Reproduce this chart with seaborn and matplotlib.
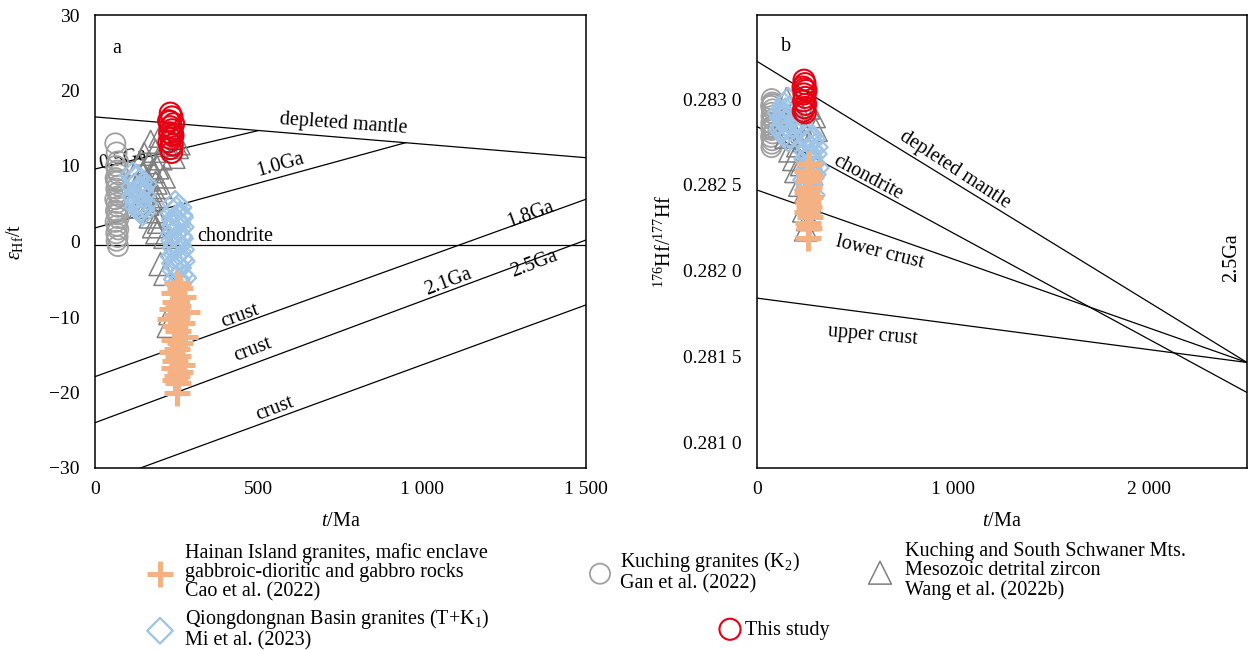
import matplotlib
matplotlib.use("Agg")
import numpy as np
import pandas as pd
import seaborn as sns
import matplotlib.pyplot as plt
from matplotlib.ticker import MultipleLocator, FuncFormatter, FixedLocator

sns.set_theme(style="white")
plt.rcParams["font.family"] = ["Liberation Serif", "DejaVu Serif"]
plt.rcParams["mathtext.fontset"] = "custom"
plt.rcParams["mathtext.rm"] = "Liberation Serif"
plt.rcParams["mathtext.it"] = "Liberation Serif:italic"
plt.rcParams["mathtext.bf"] = "Liberation Serif:bold"
plt.rcParams["axes.unicode_minus"] = True

# ---------------- data: panel a (t/Ma vs eHf(t)) ----------------
kuching_a_t = [62, 66, 70, 64, 68, 72, 63, 67, 71, 65, 69, 73, 62, 66, 70, 64, 68, 72, 63, 67, 71, 65, 69, 66, 70, 64, 68]
kuching_a_e = [13.0, 11.8, 10.6, 10.0, 9.4, 8.9, 8.4, 7.9, 7.4, 7.0, 6.5, 6.0, 5.6, 5.1, 4.6, 4.1, 3.6, 3.1, 2.6, 2.1, 1.6, 1.1, 0.6, 0.1, -0.6, 8.1, 3.9]

wang_a_t = [200, 170, 215, 250, 185, 150, 240, 200, 165, 135, 190, 175, 145, 210, 160, 185, 130, 200, 170, 150, 190, 175, 160, 140, 185, 170, 195, 180, 190, 215, 200, 215, 230, 225, 255]
wang_a_e = [14.0, 13.2, 12.8, 12.5, 12.0, 11.6, 11.2, 11.0, 10.5, 10.2, 9.8, 9.3, 9.0, 8.6, 8.2, 7.8, 7.5, 7.2, 6.8, 6.4, 6.0, 5.5, 5.0, 4.6, 4.0, 3.3, 2.6, 2.0, 1.2, 0.6, -3.0, -4.3, -9.5, -11.2, 13.0]

mi_a_t = [115, 125, 135, 120, 140, 130, 145, 125, 135, 150, 130, 140, 145, 120, 150, 128, 138, 132, 142,
          245, 255, 240, 260, 250, 245, 255, 240, 260, 250, 245, 255, 240, 265, 250, 245, 260, 250, 255, 270,
          248, 258, 243, 252, 262, 247, 257, 242, 253, 263, 249, 259, 244, 254]
mi_a_e = [8.8, 8.2, 7.8, 7.3, 7.0, 6.6, 6.2, 5.8, 5.4, 5.0, 4.6, 4.2, 3.8, 6.0, 7.6, 8.5, 6.8, 5.2, 4.4,
          5.0, 4.5, 3.8, 3.2, 2.7, 2.1, 1.6, 1.0, 0.4, -0.2, -0.8, -1.4, -2.0, -2.6, -3.2, -3.8, -4.4, -5.0, -5.6, -4.8,
          4.2, 3.5, 2.9, 2.4, 1.9, 1.3, 0.7, 0.1, -0.5, -1.1, -1.7, -2.3, -2.9, -3.5]

cao_a_t = [250, 260, 240, 270, 245, 255, 235, 280, 250, 230, 265, 245, 255, 275, 240, 260, 250, 235, 255, 245, 265, 240, 260, 250, 245, 255, 250]
cao_a_e = [-5.5, -6.2, -6.8, -7.4, -8.0, -8.5, -9.0, -9.4, -9.8, -10.3, -10.8, -11.2, -11.8, -12.6, -13.0, -13.5, -14.2, -14.6, -15.2, -15.8, -16.3, -16.8, -17.3, -17.8, -18.3, -18.7, -20.0]

this_a_t = [230, 235, 225, 240, 230, 235, 228, 238, 232, 226, 236, 230, 234, 229, 237]
this_a_e = [17.0, 16.5, 16.0, 15.6, 15.2, 14.8, 14.4, 14.0, 13.6, 13.2, 12.8, 12.3, 11.8, 15.9, 14.2]

# ---------------- data: panel b (t/Ma vs 176Hf/177Hf) ----------------
kuching_b_t = [75, 78, 72, 80, 76, 74, 79, 73, 77, 75, 80, 72, 78, 76, 74, 79, 73]
kuching_b_r = [0.28300, 0.28298, 0.28296, 0.28294, 0.28292, 0.28290, 0.28288, 0.28286, 0.28284, 0.28282, 0.28280, 0.28278, 0.28276, 0.28274, 0.28272, 0.28297, 0.28283]

wang_b_t = [150, 200, 260, 180, 290, 140, 220, 170, 300, 190, 150, 240, 210, 170, 280, 190, 230, 200, 260, 220, 250, 270, 240, 260, 250]
wang_b_r = [0.28300, 0.28297, 0.28295, 0.28292, 0.28290, 0.28288, 0.28286, 0.28284, 0.28282, 0.28280, 0.28278, 0.28276, 0.28273, 0.28270, 0.28268, 0.28265, 0.28262, 0.28258, 0.28255, 0.28250, 0.28246, 0.28240, 0.28235, 0.28230, 0.28224]

mi_b_t = [120, 140, 160, 130, 150, 170, 140, 160, 180, 150, 130, 170, 145, 155, 135, 165,
          260, 280, 250, 270, 290, 255, 275, 265, 285, 250, 270, 260, 280, 300, 295,
          262, 272, 258, 268, 278, 264, 274, 266]
mi_b_r = [0.28292, 0.28296, 0.28299, 0.28289, 0.28286, 0.28283, 0.28280, 0.28277, 0.28285, 0.28290, 0.28282, 0.28294, 0.28293, 0.28288, 0.28284, 0.28279,
          0.28280, 0.28277, 0.28274, 0.28271, 0.28268, 0.28265, 0.28262, 0.28259, 0.28256, 0.28253, 0.28250, 0.28247, 0.28244, 0.28260, 0.28272,
          0.28278, 0.28275, 0.28269, 0.28266, 0.28263, 0.28257, 0.28254, 0.28251]

cao_b_t = [265, 255, 270, 260, 265, 255, 270, 260, 265, 255, 270, 260, 265, 260]
cao_b_r = [0.28262, 0.28258, 0.28255, 0.28252, 0.28249, 0.28246, 0.28243, 0.28240, 0.28237, 0.28234, 0.28231, 0.28228, 0.28225, 0.28219]

this_b_t = [240, 245, 235, 250, 240, 245, 238, 248, 242, 236, 246, 243]
this_b_r = [0.28311, 0.28309, 0.28307, 0.28305, 0.28303, 0.28301, 0.28299, 0.28297, 0.28295, 0.28293, 0.28292, 0.28306]

# ---------------- reference lines ----------------
dm_a_t, dm_a_e = [0, 1500], [16.5, 11.1]
chon_a_t, chon_a_e = [0, 1500], [-0.5, -0.5]
c05_t, c05_e = [0, 500], [9.6, 14.7]
c10_t, c10_e = [0, 950], [1.8, 13.1]
c18_t, c18_e = [0, 1500], [-17.9, 5.6]
c21_t, c21_e = [0, 1500], [-24.0, 0.2]
c25_t, c25_e = [0, 1500], [-32.2, -8.4]

dm_b_t, dm_b_r = [0, 2500], [0.28322, 0.281465]
chon_b_t, chon_b_r = [0, 2500], [0.28284, 0.28129]
lc_b_t, lc_b_r = [0, 2500], [0.28247, 0.281465]
uc_b_t, uc_b_r = [0, 2500], [0.28184, 0.281465]

lab_cao = "Hainan Island granites, mafic enclave\ngabbroic-dioritic and gabbro rocks\nCao et al. (2022)"
lab_mi = "Qiongdongnan Basin granites (T+K$_1$)\nMi et al. (2023)"
lab_kuch = "Kuching granites (K$_2$)\nGan et al. (2022)"
lab_wang = "Kuching and South Schwaner Mts.\nMesozoic detrital zircon\nWang et al. (2022b)"
lab_this = "This study"

C_GREY = "#A0A0A0"
C_TRI = "#7F7F7F"
C_BLUE = "#9DC3E6"
C_ORANGE = "#F4B183"
C_RED = "#E60012"

W, H = 1249, 650
fig = plt.figure(figsize=(W / 100, H / 100), dpi=100)
axa = fig.add_axes([95 / W, 1 - 468 / H, 491 / W, 453 / H])
axb = fig.add_axes([757 / W, 1 - 468 / H, 490 / W, 453 / H])

FS = 14.5
TFS = 14
lkw = dict(color="black", lw=0.9, zorder=1)


def scatter_all(ax, kt, kv, wt, wv, mt, mv, ct, cv, tt, tv):
    hs = []
    d = pd.DataFrame({"x": kt, "y": kv})
    sns.scatterplot(data=d, x="x", y="y", ax=ax, marker="o", s=210, facecolor="none",
                    edgecolor=C_GREY, linewidth=1.3, legend=False, zorder=3)
    hs.append(ax.collections[-1])
    d = pd.DataFrame({"x": wt, "y": wv})
    sns.scatterplot(data=d, x="x", y="y", ax=ax, marker="^", s=270, facecolor="none",
                    edgecolor=C_TRI, linewidth=1.1, legend=False, zorder=4)
    hs.append(ax.collections[-1])
    d = pd.DataFrame({"x": mt, "y": mv})
    sns.scatterplot(data=d, x="x", y="y", ax=ax, marker="D", s=170, facecolor="none",
                    edgecolor=C_BLUE, linewidth=1.6, legend=False, zorder=5)
    hs.append(ax.collections[-1])
    d = pd.DataFrame({"x": ct, "y": cv})
    sns.scatterplot(data=d, x="x", y="y", ax=ax, marker="+", s=340, color=C_ORANGE,
                    linewidth=3.6, legend=False, zorder=6)
    hs.append(ax.collections[-1])
    d = pd.DataFrame({"x": tt, "y": tv})
    sns.scatterplot(data=d, x="x", y="y", ax=ax, marker="o", s=230, facecolor="none",
                    edgecolor=C_RED, linewidth=1.5, legend=False, zorder=7)
    hs.append(ax.collections[-1])
    return hs


# ---------------- panel a ----------------
for xs, ys in [(dm_a_t, dm_a_e), (chon_a_t, chon_a_e), (c05_t, c05_e), (c10_t, c10_e),
               (c18_t, c18_e), (c21_t, c21_e), (c25_t, c25_e)]:
    axa.plot(xs, ys, **lkw)

handles = scatter_all(axa, kuching_a_t, kuching_a_e, wang_a_t, wang_a_e, mi_a_t, mi_a_e,
                      cao_a_t, cao_a_e, this_a_t, this_a_e)

axa.set_xlim(0, 1500)
axa.set_ylim(-30, 30)
axa.xaxis.set_major_locator(MultipleLocator(500))
axa.yaxis.set_major_locator(MultipleLocator(10))
thou = FuncFormatter(lambda v, p: f"{int(round(v)):,}".replace(",", " "))
axa.xaxis.set_major_formatter(thou)
axa.tick_params(direction="in", length=6, width=1, labelsize=TFS, colors="black")
axa.tick_params(axis="y", pad=11)
axa.tick_params(axis="x", pad=9)
axa.set_xlabel("$t$/Ma", fontsize=FS, color="black")
axa.set_ylabel(r"$\varepsilon_{\mathrm{Hf}}$/t", fontsize=FS, color="black")
axa.yaxis.set_label_coords(-0.143, 0.5)
axa.xaxis.set_label_coords(0.5, -0.098)

tk = dict(fontsize=FS, color="black", ha="center", va="center", zorder=2)
axa.text(0.045, 0.925, "a", transform=axa.transAxes, **tk)
axa.text(760, 15.6, "depleted mantle", rotation=-4, **tk)
axa.text(85, 10.9, "0.5Ga", rotation=12, **tk)
axa.text(565, 10.2, "1.0Ga", rotation=16, **tk)
axa.text(428, 0.7, "chondrite", rotation=0, **tk)
axa.text(443, -9.9, "crust", rotation=20, **tk)
axa.text(1329, 3.6, "1.8Ga", rotation=20, **tk)
axa.text(483, -14.4, "crust", rotation=21, **tk)
axa.text(1078, -5.4, "2.1Ga", rotation=21, **tk)
axa.text(550, -22.1, "crust", rotation=21, **tk)
axa.text(1341, -3.0, "2.5Ga", rotation=21, **tk)

# ---------------- panel b ----------------
for xs, ys in [(dm_b_t, dm_b_r), (chon_b_t, chon_b_r), (lc_b_t, lc_b_r), (uc_b_t, uc_b_r)]:
    axb.plot(xs, ys, **lkw)

scatter_all(axb, kuching_b_t, kuching_b_r, wang_b_t, wang_b_r, mi_b_t, mi_b_r,
            cao_b_t, cao_b_r, this_b_t, this_b_r)

axb.set_xlim(0, 2500)
axb.set_ylim(0.28085, 0.28349)
axb.xaxis.set_major_locator(FixedLocator([0, 1000, 2000]))
axb.xaxis.set_minor_locator(MultipleLocator(200))
axb.yaxis.set_major_locator(MultipleLocator(0.0005))
axb.yaxis.set_minor_locator(MultipleLocator(0.0001))
axb.xaxis.set_major_formatter(thou)
axb.yaxis.set_major_formatter(FuncFormatter(lambda v, p: (lambda s: s[:-1] + " " + s[-1])(f"{v:.4f}")))
axb.tick_params(which="major", direction="in", length=13, width=1, labelsize=TFS, colors="black")
axb.tick_params(which="minor", direction="in", length=6.5, width=1, colors="black")
axb.tick_params(axis="y", which="major", pad=11)
axb.tick_params(axis="x", which="major", pad=9)
axb.set_xlabel("$t$/Ma", fontsize=FS, color="black")
axb.set_ylabel("$^{176}$Hf/$^{177}$Hf", fontsize=FS, color="black")
axb.yaxis.set_label_coords(-0.166, 0.5)
axb.xaxis.set_label_coords(0.5, -0.098)

axb.text(0.06, 0.93, "b", transform=axb.transAxes, **tk)
axb.text(1010, 0.282587, "depleted mantle", rotation=-33, **tk)
axb.text(566, 0.28254, "chondrite", rotation=-28, **tk)
axb.text(628, 0.282108, "lower crust", rotation=-14, **tk)
axb.text(592, 0.281622, "upper crust", rotation=-5, **tk)
axb.text(2423, 0.282076, "2.5Ga", rotation=90, **tk)

for ax in (axa, axb):
    for s in ax.spines.values():
        s.set_color("black")
        s.set_linewidth(1.1)

# ---------------- legend (one entry per legend box) ----------------
h_kuch, h_wang, h_mi, h_cao, h_this = handles
fs_px = FS * 100 / 72
entries = [
    (h_cao, lab_cao, 160, 185, 572),
    (h_mi, lab_mi, 160, 185, 629),
    (h_kuch, lab_kuch, 600, 620, 572),
    (h_wang, lab_wang, 880, 905, 571),
    (h_this, lab_this, 730, 745, 630),
]
for h, lab, mx, tx, cy in entries:
    x0 = mx - 0.5 * fs_px
    pad = (tx - mx - 0.5 * fs_px) / fs_px
    leg = fig.legend(handles=[h], labels=[lab], loc="center left",
                     bbox_to_anchor=(x0 / W, 1 - cy / H), frameon=False,
                     borderpad=0, borderaxespad=0, handlelength=1.0,
                     handletextpad=pad, scatterpoints=1, fontsize=FS)
    for t in leg.get_texts():
        t.set_linespacing(1.0)
        t.set_color("black")

fig.savefig("out.png", dpi=100)
